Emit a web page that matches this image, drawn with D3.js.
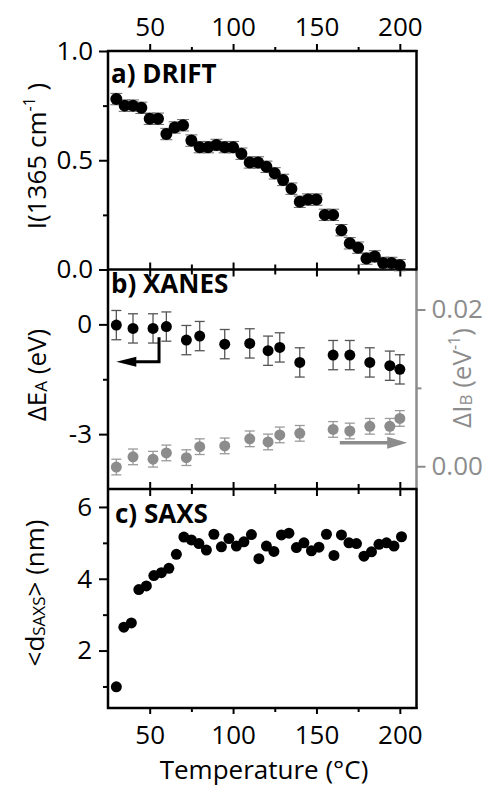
<!DOCTYPE html>
<html>
<head>
<meta charset="utf-8">
<script src="https://cdn.jsdelivr.net/npm/d3@7"></script>
<style>
	body { margin: 0; background: #fff; }
	svg text { font-family: "Open Sans", sans-serif; }
</style>
</head>
<body>
<script>
// valeurs
const tempDrift = [30, 35, 40, 45, 50, 55, 60, 65, 70, 75, 80, 85, 90, 95, 100, 105, 110, 115, 120, 125, 130, 135, 140, 145, 150, 155, 160, 165, 170, 175, 180, 185, 190, 195, 200];
const intDrift = [0.78, 0.75, 0.75, 0.74, 0.69, 0.69, 0.62, 0.65, 0.66, 0.59, 0.56, 0.56, 0.57, 0.56, 0.56, 0.53, 0.49, 0.49, 0.47, 0.44, 0.41, 0.37, 0.31, 0.32, 0.32, 0.25, 0.25, 0.18, 0.12, 0.10, 0.05, 0.06, 0.03, 0.03, 0.02];
const errDrift = 0.026;

const tempXanes = [30, 40, 52, 60, 72, 80, 95, 110, 121, 128, 140, 160, 170, 182, 194, 200];
const deltaE = [-0.02, -0.11, -0.11, -0.06, -0.43, -0.32, -0.54, -0.52, -0.72, -0.63, -1.04, -0.84, -0.84, -1.04, -1.13, -1.23];
const errE = 0.4;
const deltaI = [-0.0001, 0.0012, 0.0009, 0.0017, 0.0011, 0.0025, 0.0026, 0.0035, 0.0031, 0.0040, 0.0042, 0.0047, 0.0045, 0.0051, 0.0051, 0.0061];
const errI = 0.001;

const tempSaxs = [30, 34.5, 39, 43.5, 48, 52.5, 57, 61.5, 66, 70.5, 75, 79.5, 84, 88.5, 93, 97.5, 102, 106.5, 111, 115.5, 120, 124.5, 129, 133.5, 138, 142.5, 147, 151.5, 156, 160.5, 165, 169.5, 174, 178.5, 183, 187.5, 192, 196.5, 201];
const dSaxs = [0.99, 2.65, 2.77, 3.70, 3.80, 4.09, 4.17, 4.29, 4.68, 5.16, 5.08, 4.98, 4.80, 5.24, 4.89, 5.12, 4.91, 5.03, 5.23, 4.56, 4.91, 4.76, 5.22, 5.27, 4.87, 5.00, 4.78, 4.88, 5.24, 4.65, 5.22, 5.00, 4.98, 4.63, 4.75, 4.96, 5.00, 4.91, 5.17];

const xMajeurs = [50, 100, 150, 200];
const xMineurs = [75, 125, 175];

const gris = "#8c8c8c";
const taillePolice = "26px";

const svg = d3.select("body")
	.append("svg")
	.attr("width", 483)
	.attr("height", 787);

const x = d3.scaleLinear().domain([25, 210]).range([108, 416.5]);
const yA = d3.scaleLinear().domain([0, 1]).range([269.5, 51]);
const yB = d3.scaleLinear().domain([-4.5, 1.5]).range([489, 269.5]);
const yB2 = d3.scaleLinear().domain([-0.0029, 0.0251]).range([489, 269.5]);
const yC = d3.scaleLinear().domain([0.4, 6.5]).range([708, 489]);

const axe = (axis, tx, ty, couleur) => {
	const g = svg.append("g")
		.attr("transform", `translate(${tx},${ty})`)
		.call(axis);
	g.select(".domain").remove();
	g.selectAll("line").attr("stroke", couleur).attr("stroke-width", 2);
	g.selectAll("text")
		.attr("fill", couleur)
		.style("font-size", taillePolice);
	return g;
};

// axe du haut (panneau a)
axe(d3.axisTop(x).tickValues(xMajeurs).tickSize(7).tickPadding(8), 0, 51, "#000");
axe(d3.axisTop(x).tickValues(xMineurs).tickSize(4).tickFormat(""), 0, 51, "#000");

// graduations entre les panneaux
[269.5, 489].forEach((y) => {
	axe(d3.axisTop(x).tickValues(xMajeurs).tickSize(7).tickFormat(""), 0, y, "#000");
	axe(d3.axisBottom(x).tickValues(xMajeurs).tickSize(7).tickFormat(""), 0, y, "#000");
	axe(d3.axisTop(x).tickValues(xMineurs).tickSize(5).tickFormat(""), 0, y, "#000");
	axe(d3.axisBottom(x).tickValues(xMineurs).tickSize(5).tickFormat(""), 0, y, "#000");
});

// axe du bas
axe(d3.axisBottom(x).tickValues(xMajeurs).tickSize(6).tickPadding(12), 0, 708, "#000");
axe(d3.axisBottom(x).tickValues(xMineurs).tickSize(4).tickFormat(""), 0, 708, "#000");

// axes verticaux
axe(d3.axisLeft(yA).tickValues([0, 0.5, 1]).tickFormat(d3.format(".1f")).tickSize(9).tickPadding(6), 108, 0, "#000");
axe(d3.axisLeft(yA).tickValues([0.25, 0.75]).tickSize(5).tickFormat(""), 108, 0, "#000");

axe(d3.axisLeft(yB).tickValues([-3, 0]).tickFormat((d) => String(d)).tickSize(9).tickPadding(7), 108, 0, "#000");
axe(d3.axisLeft(yB).tickValues([-1.5]).tickSize(5).tickFormat(""), 108, 0, "#000");

axe(d3.axisRight(yB2).tickValues([0, 0.02]).tickFormat(d3.format(".2f")).tickSize(9).tickPadding(6), 416.5, 0, gris);
axe(d3.axisRight(yB2).tickValues([0.01]).tickSize(5).tickFormat(""), 416.5, 0, gris);

axe(d3.axisLeft(yC).tickValues([2, 4, 6]).tickFormat(d3.format("d")).tickSize(9).tickPadding(7), 108, 0, "#000");
axe(d3.axisLeft(yC).tickValues([1, 3, 5]).tickSize(5).tickFormat(""), 108, 0, "#000");

// cadres
const cadre = svg.append("g").attr("stroke-width", 2.5).attr("fill", "none");
cadre.append("line").attr("x1", 108).attr("x2", 108).attr("y1", 50).attr("y2", 709).attr("stroke", "#000");
cadre.append("line").attr("x1", 416.5).attr("x2", 416.5).attr("y1", 50).attr("y2", 269.5).attr("stroke", "#000");
cadre.append("line").attr("x1", 416.5).attr("x2", 416.5).attr("y1", 269.5).attr("y2", 489).attr("stroke", gris);
cadre.append("line").attr("x1", 416.5).attr("x2", 416.5).attr("y1", 489).attr("y2", 709).attr("stroke", "#000");
[51, 269.5, 489, 708].forEach((y) => {
	cadre.append("line").attr("x1", 107).attr("x2", 417.5).attr("y1", y).attr("y2", y).attr("stroke", "#000");
});

// barres d'erreur
const barres = (temps, vals, err, yScale, couleur, largeur, demi) => {
	const g = svg.append("g").attr("stroke", couleur).attr("stroke-width", largeur);
	temps.forEach((t, i) => {
		const cx = x(t);
		const haut = yScale(vals[i] + err);
		const bas = yScale(vals[i] - err);
		g.append("line").attr("x1", cx).attr("x2", cx).attr("y1", haut).attr("y2", bas);
		g.append("line").attr("x1", cx - demi).attr("x2", cx + demi).attr("y1", haut).attr("y2", haut);
		g.append("line").attr("x1", cx - demi).attr("x2", cx + demi).attr("y1", bas).attr("y2", bas);
	});
};

const points = (temps, vals, yScale, couleur, r) => {
	svg.append("g")
		.selectAll("circle")
		.data(temps)
		.join("circle")
		.attr("cx", (d) => x(d))
		.attr("cy", (d, i) => yScale(vals[i]))
		.attr("r", r)
		.attr("fill", couleur);
};

barres(tempDrift, intDrift, errDrift, yA, "#666", 1, 6);
points(tempDrift, intDrift, yA, "#000", 6);

barres(tempXanes, deltaE, errE, yB, "#555", 1.3, 5);
barres(tempXanes, deltaI, errI, yB2, "#9a9a9a", 1.3, 5);
points(tempXanes, deltaE, yB, "#000", 5.5);
points(tempXanes, deltaI, yB2, gris, 5.5);

points(tempSaxs, dSaxs, yC, "#000", 5.5);

// flèches
const fl1 = svg.append("g");
fl1.append("path")
	.attr("d", `M${x(55.6)},${yB(-0.35)}V${yB(-1.02)}H${x(30) + 16}`)
	.attr("fill", "none")
	.attr("stroke", "#000")
	.attr("stroke-width", 3);
fl1.append("path")
	.attr("d", `M${x(30)},${yB(-1.02)}l20,-5v10z`)
	.attr("fill", "#000");

const fl2 = svg.append("g");
fl2.append("path")
	.attr("d", `M${x(164)},${yB2(0.003)}H${x(204.4) - 16}`)
	.attr("stroke", gris)
	.attr("stroke-width", 3.5);
fl2.append("path")
	.attr("d", `M${x(204.4)},${yB2(0.003)}l-20,-6v12z`)
	.attr("fill", gris);

// titres des panneaux
const titre = (tx, ty, texte) => {
	svg.append("text")
		.attr("x", tx)
		.attr("y", ty)
		.style("font-size", taillePolice)
		.style("font-weight", "bold")
		.text(texte);
};
titre(111, 83, "a) DRIFT");
titre(111, 293, "b) XANES");
titre(115, 523, "c) SAXS");

// titres des axes
const titreY = (tx, ty, couleur, morceaux) => {
	const t = svg.append("text")
		.attr("transform", `translate(${tx},${ty}) rotate(-90)`)
		.attr("text-anchor", "middle")
		.attr("fill", couleur)
		.style("font-size", taillePolice);
	morceaux.forEach((m) => {
		t.append("tspan")
			.attr("dy", m.dy || 0)
			.style("font-size", m.taille || taillePolice)
			.text(m.texte);
	});
};

titreY(46, 156, "#000", [
	{ texte: "I(1365 cm" },
	{ texte: "-1", taille: "16px", dy: -11 },
	{ texte: " )", dy: 11 },
]);
titreY(46, 375, "#000", [
	{ texte: "\u0394E" },
	{ texte: "A", taille: "17px", dy: 1 },
	{ texte: " (eV)", dy: -1 },
]);
titreY(44, 593, "#000", [
	{ texte: "<d" },
	{ texte: "SAXS", taille: "17px", dy: 1 },
	{ texte: "> (nm)", dy: -1 },
]);
titreY(471, 378, gris, [
	{ texte: "\u0394I" },
	{ texte: "B", taille: "17px", dy: 1 },
	{ texte: " (eV", dy: -1 },
	{ texte: "-1", taille: "16px", dy: -11 },
	{ texte: ")", dy: 11 },
]);

svg.append("text")
	.attr("x", 264)
	.attr("y", 779)
	.attr("text-anchor", "middle")
	.style("font-size", taillePolice)
	.text("Temperature (\u00B0C)");
</script>
</body>
</html>
